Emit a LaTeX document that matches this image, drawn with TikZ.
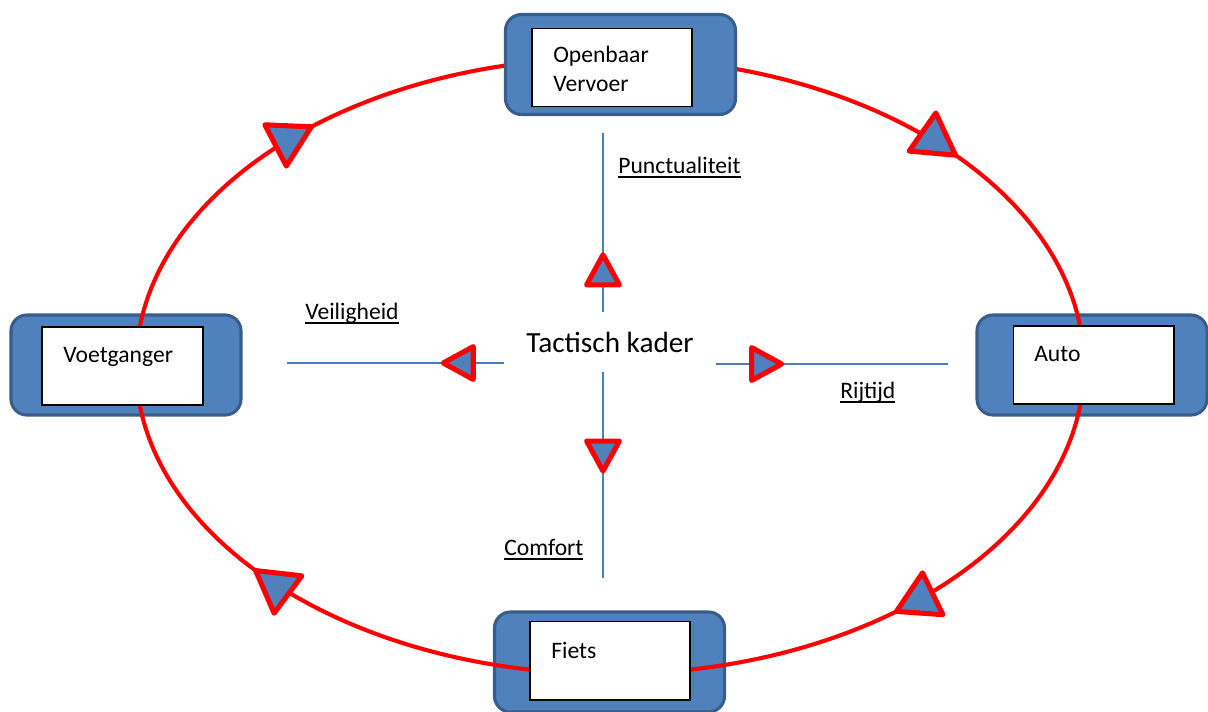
\documentclass[tikz,border=0pt]{standalone}
\usepackage{fontspec}
\setmainfont{Carlito}
\usepackage{xcolor}
\usepackage{tikz}
\usetikzlibrary{arrows.meta,positioning,calc,decorations.markings}

\definecolor{boxblue}{HTML}{4F81BD}
\definecolor{boxedge}{HTML}{385D8A}
\definecolor{spokeblue}{HTML}{4A7EBB}
\definecolor{ringred}{HTML}{FF0000}
\newcommand{\ulabel}[1]{\setbox0\hbox{#1}\rlap{\rule[-0.22em]{\wd0}{0.085em}}\box0}

\begin{document}
\begin{tikzpicture}[
    x=0.025cm, y=-0.025cm,
    outerbox/.style={rectangle, draw=boxedge, fill=boxblue, line width=2.2pt, rounded corners=0.4cm, minimum width=5.75cm, minimum height=2.5cm},
    innerbox/.style={rectangle, draw=black, fill=white, line width=1.4pt, minimum width=4cm, minimum height=1.95cm},
    boxtext/.style={inner sep=0pt, anchor=base west, font=\fontsize{16.8}{20.6}\selectfont, align=left},
    factor/.style={inner sep=0pt, anchor=base west, font=\fontsize{16.8}{20.6}\selectfont},
    spoke/.style={draw=spokeblue, line width=1.1pt},
    ring/.style={draw=ringred, line width=2.9pt},
    ringtip/.tip={Triangle[length=1.2cm, width=1.35cm, line width=3.6pt, round, color=ringred, fill=boxblue]},
    spoketip/.tip={Triangle[length=0.95cm, width=1cm, line width=3.6pt, round, color=ringred, fill=boxblue]},
    tipat/.style={postaction={decorate, decoration={markings, mark=at position #1 with {\arrow{spoketip}}}}}
]
    \useasboundingbox (0,0) rectangle (1208,711);

    % Outer boxes (below the ring)
    \node[outerbox] (voet) at (126,365) {};
    \node[outerbox] (auto) at (1092,365) {};
    \node[outerbox] (fiets) at (609.5,662) {};

    % Ring of modes
    \coordinate (ringc) at (610,366);
    \draw[ring, decoration={markings,
            mark=at position 0.132 with {\arrow{ringtip}},
            mark=at position 0.402 with {\arrow{ringtip}},
            mark=at position 0.6265 with {\arrow{ringtip}},
            mark=at position 0.8976 with {\arrow{ringtip}}},
        postaction={decorate}] (ringc) ellipse [x radius=474, y radius=308];

    % Openbaar vervoer (above the ring)
    \node[outerbox] (ov) at (620.5,64.5) {};

    % Inner boxes
    \node[innerbox] (ovin) at (612,67.5) {};
    \node[innerbox] (voetin) at (122.5,366) {};
    \node[innerbox] (autoin) at (1093.5,365) {};
    \node[innerbox] (fietsin) at (610,660.5) {};

    \node[boxtext] (ovtxt) at (553,91) {Openbaar\\Vervoer};
    \node[boxtext] (voettxt) at (63,362) {Voetganger};
    \node[boxtext] (autotxt) at (1034,361) {Auto};
    \node[boxtext] (fietstxt) at (551,658) {Fiets};

    % Tactisch kader with its spokes
    \node[font=\fontsize{20.8}{25}\selectfont, inner xsep=0.55cm, inner ysep=0.49cm, anchor=base] (kader) at (610,352) {Tactisch kader};

    \coordinate (puntend) at (603,133);
    \coordinate (comfend) at (603,578);
    \coordinate (veilend) at (287,363);
    \coordinate (rijend) at (948,364);

    \draw[spoke, tipat=0.333] (kader.north -| puntend) -- (puntend);
    \draw[spoke, tipat=0.493] (kader.south -| comfend) -- (comfend);
    \draw[spoke, tipat=0.292] (kader.west |- veilend) -- (veilend);
    \draw[spoke, tipat=0.294] (kader.east |- rijend) -- (rijend);

    % Factors
    \node[factor] (punt) at (618,173) {\ulabel{Punctualiteit}};
    \node[factor] (veil) at (305,319) {\ulabel{Veiligheid}};
    \node[factor] (rij) at (840,398) {\ulabel{Rijtijd}};
    \node[factor] (comf) at (504,555) {\ulabel{Comfort}};
\end{tikzpicture}
\end{document}
